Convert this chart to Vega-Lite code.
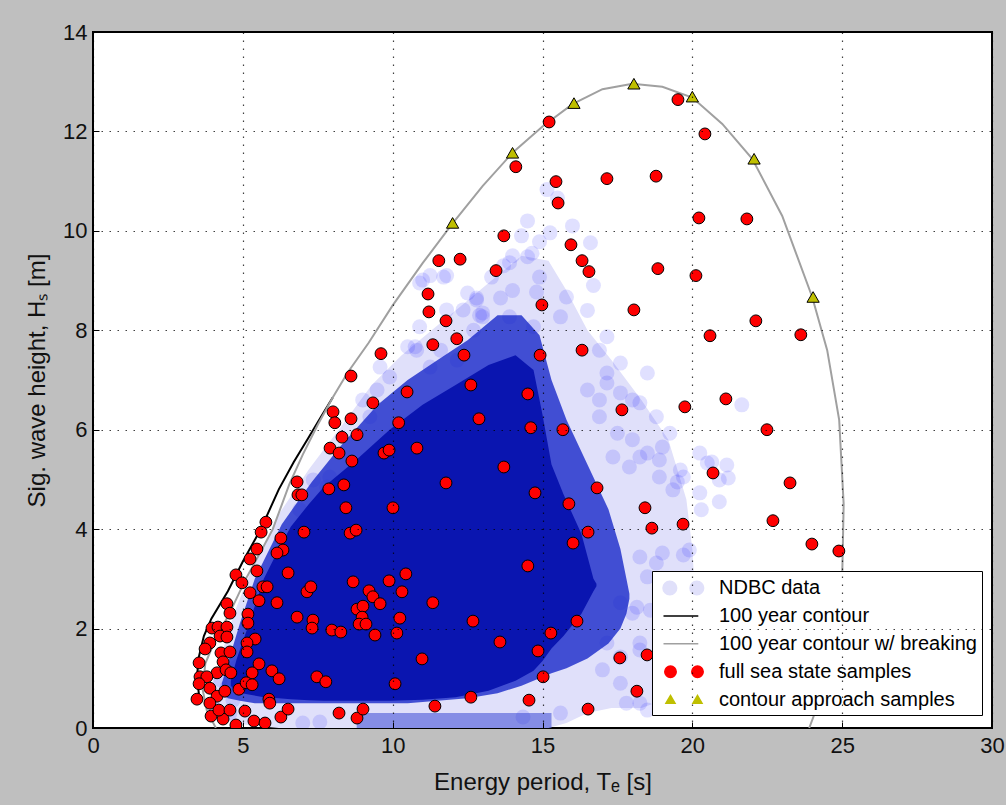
{
"$schema": "https://vega.github.io/schema/vega-lite/v6.json",
"width": 899, "height": 696,
"autosize": {"type": "none"},
"padding": {"left": 93, "top": 32, "right": 14, "bottom": 77},
"background": "#bfbfbf",
"config": {"view": {"stroke": "#000000", "strokeWidth": 2, "fill": "#ffffff"}, "font": "Liberation Sans"},
"datasets": {
"band": [
{"lvl":1,"Te":4.0,"Hs":0.9,"Hs2":0.3},{"lvl":1,"Te":4.3,"Hs":1.5,"Hs2":0.2},{"lvl":1,"Te":4.7,"Hs":2.3,"Hs2":0.1},{"lvl":1,"Te":5.3,"Hs":3.2,"Hs2":0.05},{"lvl":1,"Te":6.2,"Hs":4.3,"Hs2":0.0},{"lvl":1,"Te":7.2,"Hs":5.2,"Hs2":0.0},{"lvl":1,"Te":8.2,"Hs":6.0,"Hs2":0.0},{"lvl":1,"Te":9.3,"Hs":6.9,"Hs2":0.0},{"lvl":1,"Te":10.3,"Hs":7.5,"Hs2":0.0},{"lvl":1,"Te":11.3,"Hs":8.0,"Hs2":0.0},{"lvl":1,"Te":12.3,"Hs":8.5,"Hs2":0.0},{"lvl":1,"Te":13.3,"Hs":9.0,"Hs2":0.0},{"lvl":1,"Te":14.3,"Hs":9.5,"Hs2":0.0},{"lvl":1,"Te":15.2,"Hs":9.4,"Hs2":0.0},{"lvl":1,"Te":15.8,"Hs":8.8,"Hs2":0.1},{"lvl":1,"Te":16.5,"Hs":8.0,"Hs2":0.3},{"lvl":1,"Te":17.3,"Hs":7.4,"Hs2":0.4},{"lvl":1,"Te":18.3,"Hs":6.6,"Hs2":0.4},{"lvl":1,"Te":19.2,"Hs":5.8,"Hs2":0.6},{"lvl":1,"Te":19.8,"Hs":4.6,"Hs2":0.9},{"lvl":1,"Te":20.0,"Hs":3.6,"Hs2":1.2},{"lvl":1,"Te":20.1,"Hs":2.6,"Hs2":2.0},
{"lvl":2,"Te":4.3,"Hs":0.9,"Hs2":0.7},{"lvl":2,"Te":4.5,"Hs":1.3,"Hs2":0.6},{"lvl":2,"Te":4.9,"Hs":2.1,"Hs2":0.55},{"lvl":2,"Te":5.4,"Hs":3.0,"Hs2":0.5},{"lvl":2,"Te":6.3,"Hs":4.1,"Hs2":0.5},{"lvl":2,"Te":7.3,"Hs":4.95,"Hs2":0.5},{"lvl":2,"Te":8.3,"Hs":5.7,"Hs2":0.5},{"lvl":2,"Te":9.5,"Hs":6.5,"Hs2":0.5},{"lvl":2,"Te":10.5,"Hs":7.0,"Hs2":0.5},{"lvl":2,"Te":11.5,"Hs":7.4,"Hs2":0.55},{"lvl":2,"Te":12.5,"Hs":7.8,"Hs2":0.6},{"lvl":2,"Te":13.5,"Hs":8.3,"Hs2":0.7},{"lvl":2,"Te":14.3,"Hs":8.3,"Hs2":0.85},{"lvl":2,"Te":14.9,"Hs":7.9,"Hs2":1.0},{"lvl":2,"Te":15.3,"Hs":7.0,"Hs2":1.1},{"lvl":2,"Te":15.8,"Hs":6.2,"Hs2":1.2},{"lvl":2,"Te":16.5,"Hs":5.3,"Hs2":1.4},{"lvl":2,"Te":17.2,"Hs":4.4,"Hs2":1.7},{"lvl":2,"Te":17.6,"Hs":3.6,"Hs2":2.0},{"lvl":2,"Te":17.8,"Hs":3.0,"Hs2":2.3},{"lvl":2,"Te":17.9,"Hs":2.7,"Hs2":2.6},
{"lvl":3,"Te":4.6,"Hs":0.95,"Hs2":0.85},{"lvl":3,"Te":4.8,"Hs":1.4,"Hs2":0.72},{"lvl":3,"Te":5.15,"Hs":2.0,"Hs2":0.68},{"lvl":3,"Te":5.7,"Hs":3.0,"Hs2":0.62},{"lvl":3,"Te":6.2,"Hs":3.6,"Hs2":0.6},{"lvl":3,"Te":6.6,"Hs":4.05,"Hs2":0.58},{"lvl":3,"Te":7.2,"Hs":4.5,"Hs2":0.56},{"lvl":3,"Te":7.7,"Hs":4.85,"Hs2":0.55},{"lvl":3,"Te":8.8,"Hs":5.4,"Hs2":0.55},{"lvl":3,"Te":9.9,"Hs":6.0,"Hs2":0.55},{"lvl":3,"Te":11.0,"Hs":6.5,"Hs2":0.57},{"lvl":3,"Te":12.1,"Hs":6.9,"Hs2":0.62},{"lvl":3,"Te":13.2,"Hs":7.3,"Hs2":0.75},{"lvl":3,"Te":14.1,"Hs":7.5,"Hs2":0.95},{"lvl":3,"Te":14.7,"Hs":7.2,"Hs2":1.15},{"lvl":3,"Te":15.0,"Hs":6.3,"Hs2":1.35},{"lvl":3,"Te":15.3,"Hs":5.3,"Hs2":1.6},{"lvl":3,"Te":15.7,"Hs":4.7,"Hs2":1.85},{"lvl":3,"Te":16.3,"Hs":3.9,"Hs2":2.3},{"lvl":3,"Te":16.7,"Hs":3.0,"Hs2":2.75},{"lvl":3,"Te":16.8,"Hs":2.9,"Hs2":2.85},
{"lvl":0,"Te":8.8,"Hs":0.3,"Hs2":0.0},{"lvl":0,"Te":12.0,"Hs":0.3,"Hs2":0.0},{"lvl":0,"Te":15.3,"Hs":0.3,"Hs2":0.0}
],
"ndbc": [
{"Te":15.15,"Hs":10.83},{"Te":15.5,"Hs":10.66},{"Te":16.0,"Hs":10.1},{"Te":15.25,"Hs":9.96},{"Te":14.9,"Hs":9.78},{"Te":16.6,"Hs":9.76},{"Te":14.5,"Hs":9.48},{"Te":13.9,"Hs":9.36},{"Te":13.3,"Hs":9.07},{"Te":14.9,"Hs":9.07},{"Te":12.8,"Hs":8.65},{"Te":13.6,"Hs":8.65},{"Te":15.8,"Hs":8.67},{"Te":16.5,"Hs":8.4},{"Te":10.9,"Hs":8.95},{"Te":11.25,"Hs":9.1},{"Te":11.8,"Hs":9.1},{"Te":12.35,"Hs":8.41},{"Te":13.0,"Hs":8.35},{"Te":13.9,"Hs":8.27},{"Te":14.7,"Hs":8.07},{"Te":15.6,"Hs":8.27},{"Te":17.15,"Hs":7.87},{"Te":10.75,"Hs":7.67},{"Te":11.6,"Hs":7.6},{"Te":16.9,"Hs":7.6},
{"Te":14.0,"Hs":9.5},{"Te":14.65,"Hs":9.55},{"Te":13.7,"Hs":9.3},{"Te":16.7,"Hs":8.9},{"Te":14.0,"Hs":8.8},{"Te":14.8,"Hs":8.77},{"Te":12.5,"Hs":8.75},{"Te":12.9,"Hs":8.3},{"Te":17.6,"Hs":7.34},{"Te":18.5,"Hs":7.14},{"Te":18.25,"Hs":6.54},{"Te":18.8,"Hs":6.26},{"Te":19.25,"Hs":5.93},{"Te":16.9,"Hs":6.6},{"Te":16.5,"Hs":6.8},{"Te":16.9,"Hs":6.26},{"Te":17.5,"Hs":5.93},{"Te":18.0,"Hs":5.8},{"Te":17.35,"Hs":5.45},{"Te":17.9,"Hs":5.25},{"Te":18.5,"Hs":5.53},{"Te":18.9,"Hs":5.05},{"Te":19.7,"Hs":5.05},{"Te":19.35,"Hs":4.79},{"Te":17.15,"Hs":7.14},{"Te":10.9,"Hs":8.07},{"Te":11.7,"Hs":9.07},{"Te":11.8,"Hs":8.41},
{"Te":17.15,"Hs":6.94},{"Te":17.6,"Hs":6.74},{"Te":18.0,"Hs":6.6},{"Te":19.0,"Hs":5.65},{"Te":19.5,"Hs":4.95},{"Te":20.25,"Hs":5.53},{"Te":20.65,"Hs":5.35},{"Te":21.15,"Hs":5.29},{"Te":21.2,"Hs":5.03},{"Te":21.65,"Hs":6.5},{"Te":20.9,"Hs":4.55},{"Te":20.25,"Hs":4.73},{"Te":20.3,"Hs":4.39},{"Te":19.9,"Hs":3.58},{"Te":19.7,"Hs":3.48},{"Te":19.0,"Hs":3.52},{"Te":18.8,"Hs":3.32},{"Te":18.25,"Hs":3.44},{"Te":17.6,"Hs":2.52},{"Te":18.0,"Hs":2.31},{"Te":18.6,"Hs":2.37},{"Te":19.15,"Hs":2.37},{"Te":17.15,"Hs":1.71},{"Te":18.25,"Hs":1.71},{"Te":17.6,"Hs":0.9},{"Te":17.8,"Hs":0.5},{"Te":18.5,"Hs":0.36},{"Te":17.0,"Hs":1.17},
{"Te":18.25,"Hs":5.45},{"Te":18.9,"Hs":5.39},{"Te":19.6,"Hs":5.19},{"Te":20.5,"Hs":5.33},{"Te":20.9,"Hs":4.99},{"Te":18.5,"Hs":3.04},{"Te":18.9,"Hs":2.78},{"Te":18.15,"Hs":2.43},{"Te":19.15,"Hs":2.11},{"Te":19.6,"Hs":1.83},{"Te":18.25,"Hs":1.57},{"Te":17.6,"Hs":1.43},{"Te":18.25,"Hs":0.5},{"Te":15.6,"Hs":0.3},{"Te":14.35,"Hs":0.22},
{"Te":11.0,"Hs":9.01},{"Te":12.8,"Hs":8.61},{"Te":13.0,"Hs":8.27},{"Te":10.5,"Hs":7.67},{"Te":9.58,"Hs":7.26},{"Te":10.8,"Hs":7.6},{"Te":11.25,"Hs":7.26},{"Te":12.15,"Hs":7.4},{"Te":12.7,"Hs":8.0},{"Te":9.0,"Hs":6.6},{"Te":9.48,"Hs":6.8},{"Te":9.9,"Hs":7.06},{"Te":7.35,"Hs":4.99},{"Te":9.24,"Hs":6.26},{"Te":14.5,"Hs":10.2},{"Te":14.3,"Hs":9.9},
{"Te":6.9,"Hs":4.39},{"Te":7.8,"Hs":4.85},{"Te":7.9,"Hs":5.05},{"Te":6.47,"Hs":3.38},{"Te":4.47,"Hs":0.82},{"Te":4.67,"Hs":0.56},{"Te":4.57,"Hs":0.3},{"Te":4.24,"Hs":0.97},{"Te":4.8,"Hs":1.23},{"Te":4.0,"Hs":0.42},{"Te":7.0,"Hs":0.1},{"Te":7.57,"Hs":0.12}
],
"black": [
{"i":0,"Te":3.55,"Hs":0.6},{"i":1,"Te":3.47,"Hs":1.0},{"i":2,"Te":3.52,"Hs":1.4},{"i":3,"Te":3.7,"Hs":1.85},{"i":4,"Te":3.95,"Hs":2.2},{"i":5,"Te":4.5,"Hs":2.75},{"i":6,"Te":5.0,"Hs":3.35},{"i":7,"Te":5.6,"Hs":4.0},{"i":8,"Te":6.2,"Hs":4.8},{"i":9,"Te":6.7,"Hs":5.35},{"i":10,"Te":7.2,"Hs":5.85},{"i":11,"Te":7.6,"Hs":6.25},{"i":12,"Te":8.0,"Hs":6.65}
],
"gray": [
{"i":0,"Te":4.1,"Hs":0.0},{"i":1,"Te":3.8,"Hs":0.35},{"i":2,"Te":3.65,"Hs":0.8},{"i":3,"Te":3.75,"Hs":1.3},{"i":4,"Te":4.1,"Hs":1.8},{"i":5,"Te":4.55,"Hs":2.3},{"i":6,"Te":5.1,"Hs":3.0},{"i":7,"Te":5.6,"Hs":3.55},{"i":8,"Te":6.0,"Hs":4.0},{"i":9,"Te":6.55,"Hs":4.9},{"i":10,"Te":7.0,"Hs":5.5},{"i":11,"Te":7.5,"Hs":6.1},{"i":12,"Te":8.0,"Hs":6.65},{"i":13,"Te":8.5,"Hs":7.15},{"i":14,"Te":9.2,"Hs":7.75},{"i":15,"Te":10.0,"Hs":8.5},{"i":16,"Te":11.0,"Hs":9.35},{"i":17,"Te":12.0,"Hs":10.15},{"i":18,"Te":13.0,"Hs":10.9},{"i":19,"Te":14.0,"Hs":11.57},{"i":20,"Te":15.0,"Hs":12.1},{"i":21,"Te":16.0,"Hs":12.55},{"i":22,"Te":17.0,"Hs":12.85},{"i":23,"Te":18.0,"Hs":12.96},{"i":24,"Te":19.0,"Hs":12.9},{"i":25,"Te":20.0,"Hs":12.68},{"i":26,"Te":21.0,"Hs":12.15},{"i":27,"Te":22.0,"Hs":11.45},{"i":28,"Te":23.0,"Hs":10.3},{"i":29,"Te":24.0,"Hs":8.67},{"i":30,"Te":24.5,"Hs":7.6},{"i":31,"Te":24.9,"Hs":6.2},{"i":32,"Te":25.05,"Hs":4.5},{"i":33,"Te":25.0,"Hs":3.0},{"i":34,"Te":24.8,"Hs":1.7},{"i":35,"Te":24.4,"Hs":0.8},{"i":36,"Te":23.9,"Hs":0.0}
],
"red": [
{"Te":15.22,"Hs":12.19},{"Te":19.52,"Hs":12.64},{"Te":20.42,"Hs":11.95},{"Te":14.11,"Hs":11.29},{"Te":15.45,"Hs":10.99},{"Te":17.15,"Hs":11.05},{"Te":18.79,"Hs":11.1},{"Te":15.52,"Hs":10.56},{"Te":20.22,"Hs":10.26},{"Te":21.82,"Hs":10.24},{"Te":13.71,"Hs":9.9},{"Te":11.54,"Hs":9.4},{"Te":12.25,"Hs":9.43},{"Te":13.45,"Hs":9.2},{"Te":15.95,"Hs":9.72},{"Te":16.32,"Hs":9.4},{"Te":16.55,"Hs":9.18},{"Te":18.85,"Hs":9.24},{"Te":20.12,"Hs":9.1},{"Te":11.18,"Hs":8.73},{"Te":11.21,"Hs":8.37},{"Te":11.78,"Hs":8.19},{"Te":14.98,"Hs":8.51},{"Te":18.05,"Hs":8.41},{"Te":22.12,"Hs":8.19},{"Te":23.62,"Hs":7.91},{"Te":20.59,"Hs":7.89},{"Te":11.34,"Hs":7.71},{"Te":12.14,"Hs":7.83},{"Te":12.38,"Hs":7.5},{"Te":14.92,"Hs":7.5},{"Te":16.32,"Hs":7.6},
{"Te":10.48,"Hs":6.76},{"Te":12.61,"Hs":6.9},{"Te":14.51,"Hs":6.72},{"Te":10.2,"Hs":6.14},{"Te":12.88,"Hs":6.22},{"Te":14.61,"Hs":6.04},{"Te":15.68,"Hs":6.0},{"Te":17.65,"Hs":6.4},{"Te":19.75,"Hs":6.46},{"Te":10.81,"Hs":5.63},{"Te":13.71,"Hs":5.25},{"Te":11.78,"Hs":4.93},{"Te":14.75,"Hs":4.73},{"Te":16.82,"Hs":4.83},{"Te":21.12,"Hs":6.62},{"Te":22.49,"Hs":6.0},{"Te":20.69,"Hs":5.13},{"Te":23.26,"Hs":4.93},{"Te":18.42,"Hs":4.43},{"Te":18.65,"Hs":4.02},{"Te":19.69,"Hs":4.1},{"Te":22.69,"Hs":4.17},{"Te":23.99,"Hs":3.7},{"Te":24.89,"Hs":3.56},{"Te":17.58,"Hs":1.41},{"Te":18.49,"Hs":1.47},{"Te":18.15,"Hs":0.74},{"Te":15.88,"Hs":4.51},{"Te":16.52,"Hs":3.94},{"Te":16.02,"Hs":3.72},{"Te":14.51,"Hs":3.26},{"Te":16.15,"Hs":2.15},{"Te":15.28,"Hs":1.91},{"Te":13.58,"Hs":1.73},{"Te":14.85,"Hs":1.55},{"Te":15.02,"Hs":1.03},{"Te":14.55,"Hs":0.56},{"Te":16.52,"Hs":0.38},
{"Te":9.61,"Hs":7.53},{"Te":8.61,"Hs":7.08},{"Te":9.34,"Hs":6.54},{"Te":8.01,"Hs":6.36},{"Te":8.07,"Hs":6.14},{"Te":8.61,"Hs":6.22},{"Te":8.31,"Hs":5.85},{"Te":8.81,"Hs":5.9},{"Te":7.91,"Hs":5.63},{"Te":8.21,"Hs":5.53},{"Te":8.64,"Hs":5.37},{"Te":9.71,"Hs":5.53},{"Te":9.88,"Hs":5.59},{"Te":6.81,"Hs":4.95},{"Te":6.84,"Hs":4.69},{"Te":6.97,"Hs":4.69},{"Te":7.87,"Hs":4.81},{"Te":8.37,"Hs":4.89},{"Te":8.44,"Hs":4.43},{"Te":10.01,"Hs":4.43},{"Te":5.77,"Hs":4.14},{"Te":5.61,"Hs":3.94},{"Te":7.04,"Hs":3.94},{"Te":8.58,"Hs":3.92},{"Te":8.78,"Hs":3.98},{"Te":6.27,"Hs":3.82},{"Te":5.47,"Hs":3.6},{"Te":6.34,"Hs":3.58},{"Te":6.14,"Hs":3.52},{"Te":5.24,"Hs":3.4},{"Te":5.47,"Hs":3.16},{"Te":6.51,"Hs":3.12},{"Te":4.77,"Hs":3.08},{"Te":4.97,"Hs":2.92},{"Te":5.67,"Hs":2.84},{"Te":5.81,"Hs":2.84},{"Te":5.24,"Hs":2.72},{"Te":5.54,"Hs":2.56},{"Te":6.14,"Hs":2.52},{"Te":7.14,"Hs":2.74},{"Te":7.27,"Hs":2.84},{"Te":8.68,"Hs":2.94},{"Te":9.88,"Hs":2.96},{"Te":10.44,"Hs":3.1},{"Te":10.31,"Hs":2.74},{"Te":9.21,"Hs":2.76},{"Te":9.34,"Hs":2.64},{"Te":9.58,"Hs":2.5},{"Te":11.34,"Hs":2.52},{"Te":12.68,"Hs":2.15},{"Te":4.47,"Hs":2.5},{"Te":4.57,"Hs":2.31},{"Te":5.17,"Hs":2.29},{"Te":5.17,"Hs":2.11},{"Te":6.81,"Hs":2.23},{"Te":7.34,"Hs":2.17},{"Te":7.31,"Hs":2.01},{"Te":7.97,"Hs":1.97},{"Te":8.27,"Hs":1.93},{"Te":8.81,"Hs":2.39},{"Te":9.01,"Hs":2.45},{"Te":8.98,"Hs":2.23},{"Te":8.88,"Hs":2.09},{"Te":9.11,"Hs":2.09},{"Te":9.41,"Hs":1.87},{"Te":10.14,"Hs":1.91},{"Te":10.24,"Hs":2.21},
{"Te":3.97,"Hs":2.01},{"Te":4.17,"Hs":2.03},{"Te":4.47,"Hs":2.03},{"Te":4.24,"Hs":1.85},{"Te":4.47,"Hs":1.83},{"Te":3.9,"Hs":1.71},{"Te":3.74,"Hs":1.59},{"Te":5.41,"Hs":1.79},{"Te":5.14,"Hs":1.71},{"Te":5.14,"Hs":1.53},{"Te":4.27,"Hs":1.51},{"Te":4.57,"Hs":1.53},{"Te":3.54,"Hs":1.31},{"Te":4.34,"Hs":1.33},{"Te":4.14,"Hs":1.11},{"Te":4.44,"Hs":1.17},{"Te":4.6,"Hs":1.11},{"Te":5.54,"Hs":1.29},{"Te":5.31,"Hs":1.11},{"Te":5.97,"Hs":1.15},{"Te":6.21,"Hs":0.99},{"Te":7.47,"Hs":1.03},{"Te":7.77,"Hs":0.93},{"Te":10.08,"Hs":0.89},{"Te":10.98,"Hs":1.39},{"Te":3.57,"Hs":1.03},{"Te":3.8,"Hs":1.03},{"Te":3.54,"Hs":0.89},{"Te":3.9,"Hs":0.8},{"Te":3.47,"Hs":0.58},{"Te":4.14,"Hs":0.64},{"Te":4.4,"Hs":0.74},{"Te":4.87,"Hs":0.78},{"Te":5.11,"Hs":0.91},{"Te":5.31,"Hs":0.87},{"Te":3.9,"Hs":0.5},{"Te":3.94,"Hs":0.24},{"Te":4.34,"Hs":0.18},{"Te":4.2,"Hs":0.36},{"Te":4.57,"Hs":0.36},{"Te":4.77,"Hs":0.06},{"Te":5.07,"Hs":0.34},{"Te":5.37,"Hs":0.14},{"Te":5.74,"Hs":0.1},{"Te":5.87,"Hs":0.58},{"Te":5.9,"Hs":0.5},{"Te":6.27,"Hs":0.22},{"Te":6.51,"Hs":0.38},{"Te":8.21,"Hs":0.3},{"Te":8.81,"Hs":0.2},{"Te":9.01,"Hs":0.38},{"Te":11.41,"Hs":0.44},{"Te":12.61,"Hs":0.62}
],
"tri": [
{"Te":12.0,"Hs":10.16},{"Te":14.0,"Hs":11.57},{"Te":16.05,"Hs":12.57},{"Te":18.05,"Hs":12.96},{"Te":20.0,"Hs":12.7},{"Te":22.06,"Hs":11.45},{"Te":24.03,"Hs":8.67}
]
},
"encoding": {
"x": {"field": "Te", "type": "quantitative", "scale": {"domain": [0, 30], "nice": false, "zero": false},
 "axis": {"title": "Energy period, Tₑ [s]", "zindex": 1, "values": [0,5,10,15,20,25,30], "format": "d", "grid": true, "gridColor": "#000000", "gridDash": [1.5, 6.5], "gridWidth": 1.2, "gridOpacity": 0.75, "domain": false, "ticks": true, "tickSize": -6, "tickColor": "#000000", "tickWidth": 1, "labelPadding": 13, "labelFont": "Liberation Sans", "labelFontSize": 22, "labelColor": "#111111", "labelFlush": false, "labelOverlap": false, "titleFont": "Liberation Sans", "titleFontSize": 24, "titleFontWeight": "normal", "titleColor": "#111111", "titlePadding": 14}},
"y": {"field": "Hs", "type": "quantitative", "scale": {"domain": [0, 14], "nice": false, "zero": false},
 "axis": {"title": "Sig. wave height, Hₛ [m]", "zindex": 1, "values": [0,2,4,6,8,10,12,14], "format": "d", "grid": true, "gridColor": "#000000", "gridDash": [1.5, 6.5], "gridWidth": 1.2, "gridOpacity": 0.75, "domain": false, "ticks": true, "tickSize": -6, "tickColor": "#000000", "tickWidth": 1, "labelPadding": 12, "labelFont": "Liberation Sans", "labelFontSize": 22, "labelColor": "#111111", "labelFlush": false, "labelOverlap": false, "titleFont": "Liberation Sans", "titleFontSize": 24, "titleFontWeight": "normal", "titleColor": "#111111", "titlePadding": 13}}
},
"layer": [
{"data": {"name": "band"}, "transform": [{"filter": "datum.lvl === 1"}], "mark": {"type": "area", "opacity": 1, "clip": true},
 "encoding": {"y2": {"field": "Hs2"}, "color": {"datum": "NDBC data", "type": "nominal",
   "scale": {"domain": ["NDBC data", "100 year contour", "100 year contour w/ breaking", "full sea state samples", "contour approach samples"], "range": ["#e0e0fa", "#000000", "#a0a0a0", "#ff0000", "#bfbf00"]},
   "legend": {"orient": "none", "legendX": 559, "legendY": 539, "title": null, "padding": 5, "rowPadding": 5.9, "symbolSize": 484, "symbolStrokeWidth": 1.5, "symbolOpacity": 1, "symbolOffset": 15, "labelOffset": 23, "labelFont": "Liberation Sans", "labelFontSize": 20, "labelColor": "#000000", "labelLimit": 500, "fillColor": "#ffffff", "strokeColor": "#000000", "cornerRadius": 0}}}},
{"data": {"name": "ndbc"}, "mark": {"type": "point", "filled": true, "size": 225, "opacity": 0.12, "strokeWidth": 0, "color": "#0000ff", "clip": true}},
{"data": {"name": "band"}, "transform": [{"filter": "datum.lvl === 2"}], "mark": {"type": "area", "color": "#1525c8", "opacity": 0.78, "clip": true}, "encoding": {"y2": {"field": "Hs2"}}},
{"data": {"name": "band"}, "transform": [{"filter": "datum.lvl === 0"}], "mark": {"type": "area", "color": "#2a3ad0", "opacity": 0.5, "clip": true}, "encoding": {"y2": {"field": "Hs2"}}},
{"data": {"name": "band"}, "transform": [{"filter": "datum.lvl === 3"}], "mark": {"type": "area", "color": "#0a15b0", "opacity": 1, "clip": true}, "encoding": {"y2": {"field": "Hs2"}}},
{"data": {"name": "black"}, "mark": {"type": "line", "strokeWidth": 2, "clip": true}, "encoding": {"order": {"field": "i", "type": "quantitative"}, "color": {"datum": "100 year contour", "type": "nominal"}}},
{"data": {"name": "gray"}, "mark": {"type": "line", "strokeWidth": 2, "clip": true}, "encoding": {"order": {"field": "i", "type": "quantitative"}, "color": {"datum": "100 year contour w/ breaking", "type": "nominal"}}},
{"data": {"name": "red"}, "mark": {"type": "point", "shape": "circle", "filled": true, "size": 140, "opacity": 1, "stroke": "#000000", "strokeWidth": 1, "clip": true}, "encoding": {"color": {"datum": "full sea state samples", "type": "nominal"}}},
{"data": {"name": "tri"}, "mark": {"type": "point", "shape": "triangle-up", "filled": true, "size": 150, "opacity": 1, "stroke": "#000000", "strokeWidth": 1, "clip": true}, "encoding": {"color": {"datum": "contour approach samples", "type": "nominal"}}},
{"data": {"name": "tri"}, "mark": {"type": "point", "filled": true, "size": 1, "opacity": 0, "clip": true},
 "encoding": {"shape": {"datum": "contour approach samples", "type": "nominal",
   "scale": {"domain": ["NDBC data", "100 year contour", "100 year contour w/ breaking", "full sea state samples", "contour approach samples"], "range": ["M -1.909,0 A 0.62,0.62 0 1,0 -0.669,0 A 0.62,0.62 0 1,0 -1.909,0 Z M 0.545,0 A 0.62,0.62 0 1,0 1.785,0 A 0.62,0.62 0 1,0 0.545,0 Z", "M -1.864,0 L 1.3,0", "M -1.864,0 L 1.3,0", "M -1.747,0 A 0.52,0.52 0 1,0 -0.707,0 A 0.52,0.52 0 1,0 -1.747,0 Z M 0.707,0 A 0.52,0.52 0 1,0 1.747,0 A 0.52,0.52 0 1,0 0.707,0 Z", "M -1.637,0.33 L -1.227,-0.37 L -0.817,0.33 Z M 0.817,0.33 L 1.227,-0.37 L 1.637,0.33 Z"]},
   "legend": {"orient": "none", "legendX": 559, "legendY": 539, "title": null, "padding": 5, "rowPadding": 5.9, "symbolSize": 484, "symbolStrokeWidth": 1.5, "symbolOpacity": 1, "symbolOffset": 15, "labelOffset": 23, "labelFont": "Liberation Sans", "labelFontSize": 20, "labelColor": "#000000", "labelLimit": 500, "fillColor": "#ffffff", "strokeColor": "#000000", "cornerRadius": 0}}}}
]
}
